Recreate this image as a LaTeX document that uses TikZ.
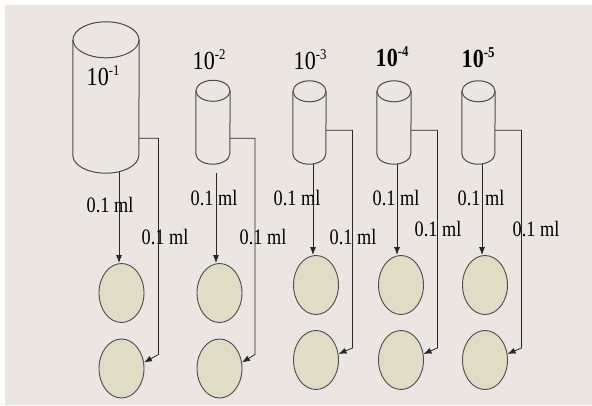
\documentclass[tikz,border=0pt]{standalone}
\usepackage{fontspec}
\setmainfont{Liberation Serif}[FakeStretch=0.85]
\newfontfamily\mlfont{Liberation Serif}[FakeStretch=0.83]
\usetikzlibrary{arrows.meta,shapes.geometric,calc}
\definecolor{bgc}{HTML}{EBE6E2}
\definecolor{dishc}{HTML}{E0DDC6}
\definecolor{cylc}{HTML}{4A4A4A}
\newcommand{\dilsup}[1]{\raisebox{10pt}{\fontsize{15}{15}\selectfont #1}}
\newcommand{\cylout}[3]{%
  \draw[cyl] (#1.north) ellipse[x radius=#2pt, y radius=#3pt];
  \draw[cyl] (#1.north west) -- (#1.south west)
    arc[start angle=180, end angle=360, x radius=#2pt, y radius=#3pt] -- (#1.north east);}
\begin{document}
\begin{tikzpicture}[x=1pt, y=-1pt,
  dish/.style={ellipse, draw=cylc, fill=dishc, line width=0.9pt,
    minimum width=45pt, minimum height=59pt, inner sep=0pt},
  body/.style={rectangle, draw=none, inner sep=0pt},
  cyl/.style={draw=cylc, line width=1pt},
  conn/.style={draw=black!85, line width=0.8pt},
  arr/.style={conn, -{Latex[length=8pt,width=6pt]}},
  lbl/.style={inner sep=0pt, anchor=base west, font=\fontsize{26}{26}\selectfont},
  vol/.style={inner sep=0pt, anchor=base west, font=\mlfont\fontsize{22}{22}\selectfont}]
\useasboundingbox (0,0) rectangle (592,406);
\fill[white] (0,0) rectangle (592,406);
\fill[bgc] (4.5,5) rectangle (592,405);

% cylinders (tubes)
\node[body, minimum width=66pt, minimum height=115pt] (cy1) at (106,97.5) {};
\node[body, minimum width=34pt, minimum height=62.5pt] (cy2) at (213,122.25) {};
\node[body, minimum width=33pt, minimum height=62pt] (cy3) at (309.5,122.5) {};
\node[body, minimum width=34pt, minimum height=62pt] (cy4) at (394,122.5) {};
\node[body, minimum width=33pt, minimum height=62pt] (cy5) at (478.5,122.5) {};
\cylout{cy1}{33}{18}
\cylout{cy2}{17}{10.5}
\cylout{cy3}{16.5}{10.5}
\cylout{cy4}{17}{10.5}
\cylout{cy5}{16.5}{10.5}

% dilution labels
\node[lbl] (t1) at (86.5,86) {10\dilsup{-1}};
\node[lbl] (t2) at (192.5,70) {10\dilsup{-2}};
\node[lbl] (t3) at (293.5,70) {10\dilsup{-3}};
\node[lbl] (t4) at (375.5,67) {\bfseries 10\dilsup{\bfseries -4}};
\node[lbl] (t5) at (461.5,68) {\bfseries 10\dilsup{\bfseries -5}};

% plates
\node[dish] (o11) at (121.5,293) {};
\node[dish] (o12) at (121.5,368.5) {};
\node[dish] (o21) at (219.5,293) {};
\node[dish] (o22) at (219.5,368.5) {};
\node[dish] (o31) at (316,285) {};
\node[dish] (o32) at (316,360) {};
\node[dish] (o41) at (401,285) {};
\node[dish] (o42) at (401,360) {};
\node[dish] (o51) at (485,285) {};
\node[dish] (o52) at (485,360) {};

% start points of the connectors
\coordinate (d1) at ($(cy1.south)+(13,16.5)$);
\coordinate (d2) at ($(cy2.south)+(3,19.5)$);
\coordinate (d3) at ($(cy3.south)+(3.5,10.5)$);
\coordinate (d4) at ($(cy4.south)+(3,10.5)$);
\coordinate (d5) at ($(cy5.south)+(3.5,10.5)$);
\coordinate (k1) at ($(cy1.south east)+(0,-17)$);
\coordinate (k2) at ($(cy2.south east)+(0,-15.5)$);
\coordinate (k3) at ($(cy3.south east)+(0,-23.5)$);
\coordinate (k4) at ($(cy4.south east)+(0,-23.5)$);
\coordinate (k5) at ($(cy5.south east)+(0,-23.5)$);

% straight transfers to first plate
\draw[arr] (d1) -- (d1 |- o11.north);
\draw[arr] (d2) -- (d2 |- o21.north);
\draw[arr] (d3) -- (d3 |- o31.north);
\draw[arr] (d4) -- (d4 |- o41.north);
\draw[arr] (d5) -- (d5 |- o51.north);

% side transfers to second plate
\draw[arr] (k1) -| ($(o12.15)+(14.5,-8)$) -- (o12.15);
\draw[arr] (k2) -| ($(o22.15)+(13,-8)$) -- (o22.15);
\draw[arr] (k3) -| ($(o32.15)+(14,-6)$) -- (o32.15);
\draw[arr] (k4) -| ($(o42.15)+(14,-6)$) -- (o42.15);
\draw[arr] (k5) -| ($(o52.15)+(14,-6)$) -- (o52.15);

% volume labels
\node[vol] (v11) at (86.5,213) {0.1 ml};
\node[vol] (v12) at (141.5,245) {0.1 ml};
\node[vol] (v21) at (190.5,206) {0.1 ml};
\node[vol] (v22) at (239.5,245) {0.1 ml};
\node[vol] (v31) at (273.5,206) {0.1 ml};
\node[vol] (v32) at (329.5,245) {0.1 ml};
\node[vol] (v41) at (372.5,206) {0.1 ml};
\node[vol] (v42) at (414.5,237) {0.1 ml};
\node[vol] (v51) at (457.5,206) {0.1 ml};
\node[vol] (v52) at (512.5,237) {0.1 ml};
\end{tikzpicture}
\end{document}
